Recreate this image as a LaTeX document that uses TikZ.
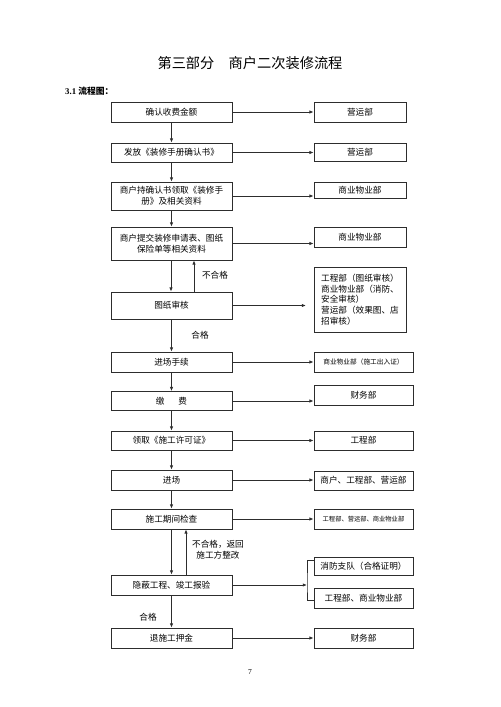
\documentclass[tikz,border=0pt]{standalone}
\usepackage{fontspec}
\setmainfont{Liberation Serif}
\newfontfamily\cjk{Noto Sans CJK SC}
\usetikzlibrary{arrows.meta}
\newcommand{\pxu}{0.042cm}
\definecolor{lineColor}{RGB}{45,45,45}
\tikzstyle{page} = [x = \pxu, y = -\pxu]
\tikzstyle{boxText} = [font=\cjk\fontsize{10.3}{12.8}\selectfont]
\tikzstyle{leftBox} = [boxText, draw=lineColor, line width=0.8pt, minimum width=121*\pxu, inner sep=0pt, align=center]
\tikzstyle{rightBox} = [boxText, draw=lineColor, line width=0.8pt, minimum width=92*\pxu, inner sep=0pt, align=center]
\tikzstyle{wideRightBox} = [rightBox, minimum width=99*\pxu]
\tikzstyle{flowLine} = [color=lineColor, line width=1.1pt]
\tikzstyle{flowArrow} = [flowLine, -{Latex[length=5pt, width=4pt]}]
\tikzstyle{noteText} = [boxText, align=center, inner sep=0pt]
\newcommand{\leftStep}[4]{\node [leftBox, minimum height=#3*\pxu] (#1) at (171.5, #2) {#4};}
\newcommand{\sideArrow}[2]{\draw [flowArrow] (#1.east) -- (#1.east -| #2.west);}
\newcommand{\nextArrow}[2]{\draw [flowArrow] (#1.south) -- (#2.north);}

\begin{document}
\begin{tikzpicture}[page]
      \useasboundingbox (0,0) rectangle (500,707);

      \node [font=\cjk\fontsize{17}{20}\selectfont] (title) at (250, 63) {第三部分\hspace{1em}商户二次装修流程};
      \node [anchor=west, inner sep=0pt, font=\bfseries\fontsize{10.5}{12}\selectfont] (heading) at (65, 91) {3.1 {\cjk 流程图：}};

      % left column
      \leftStep{l1}{112}{20}{确认收费金额}
      \leftStep{l2}{152.5}{19}{发放《装修手册确认书》}
      \leftStep{l3}{196}{28}{商户持确认书领取《装修手\\册》及相关资料}
      \leftStep{l4}{243.5}{33}{商户提交装修申请表、图纸\\保险单等相关资料}
      \leftStep{l5}{305.5}{27}{图纸审核}
      \leftStep{l6}{362}{20}{进场手续}
      \leftStep{l7}{401}{19}{缴\hspace{1.6em}费}
      \leftStep{l8}{440.5}{19}{领取《施工许可证》}
      \leftStep{l9}{480}{20}{进场}
      \leftStep{l10}{519}{20}{施工期间检查}
      \leftStep{l11}{585}{20}{隐蔽工程、竣工报验}
      \leftStep{l12}{638}{20}{退施工押金}

      % right column
      \node [rightBox, minimum height=20*\pxu] (r1) at (360, 112) {营运部};
      \node [rightBox, minimum height=18*\pxu] (r2) at (360, 152) {营运部};
      \node [rightBox, minimum height=16*\pxu] (r3) at (360, 190) {商业物业部};
      \node [rightBox, minimum height=20*\pxu] (r4) at (360, 237) {商业物业部};
      \node [rightBox, minimum height=65*\pxu, align=left] (r5) at (360, 299.5) {工程部（图纸审核）\\商业物业部（消防、\\安全审核）\\营运部（效果图、店\\招审核）};
      \node [wideRightBox, minimum height=20*\pxu, font=\cjk\fontsize{8}{10}\selectfont] (r6) at (363.5, 362) {商业物业部（施工出入证）};
      \node [wideRightBox, minimum height=20*\pxu] (r7) at (363.5, 395) {财务部};
      \node [wideRightBox, minimum height=19*\pxu] (r8) at (363.5, 440.5) {工程部};
      \node [wideRightBox, minimum height=19*\pxu] (r9) at (363.5, 480.5) {商户、工程部、营运部};
      \node [wideRightBox, minimum height=20*\pxu, font=\cjk\fontsize{7.5}{9}\selectfont] (r10) at (363.5, 519) {工程部、营运部、商业物业部};
      \node [wideRightBox, minimum height=18*\pxu] (r11a) at (363.5, 566) {消防支队（合格证明）};
      \node [wideRightBox, minimum height=20*\pxu] (r11b) at (363.5, 598) {工程部、商业物业部};
      \node [wideRightBox, minimum height=20*\pxu] (r12) at (363.5, 638) {财务部};

      % main flow
      \nextArrow{l1}{l2}
      \nextArrow{l2}{l3}
      \nextArrow{l3}{l4}
      \draw [flowArrow] ([xshift=-0.5*\pxu]l4.south) -- ([xshift=-0.5*\pxu]l5.north);
      \draw [flowArrow] ([xshift=22.5*\pxu]l5.north) -- ([xshift=22.5*\pxu]l4.south);
      \node [noteText] (fail1) at (215, 275) {不合格};
      \nextArrow{l5}{l6}
      \node [noteText] (pass1) at (200, 335) {合格};
      \nextArrow{l6}{l7}
      \nextArrow{l7}{l8}
      \nextArrow{l8}{l9}
      \nextArrow{l9}{l10}
      \nextArrow{l10}{l11}
      \draw [flowArrow] ([xshift=14.5*\pxu]l11.north) -- ([xshift=14.5*\pxu]l10.south);
      \node [noteText] (fail2) at (218, 550) {不合格，返回\\施工方整改};
      \nextArrow{l11}{l12}
      \node [noteText] (pass2) at (148, 617) {合格};

      % side arrows
      \sideArrow{l1}{r1}
      \sideArrow{l2}{r2}
      \sideArrow{l3}{r3}
      \sideArrow{l4}{r4}
      \coordinate (checkTip) at (306, 305.5);
      \draw [flowArrow] (l5.east) -- (l5.east -| checkTip);
      \sideArrow{l6}{r6}
      \sideArrow{l7}{r7}
      \sideArrow{l8}{r8}
      \sideArrow{l9}{r9}
      \sideArrow{l10}{r10}
      \coordinate (fork) at (307, 585);
      \draw [flowArrow] (l11.east) -- (fork);
      \draw [flowLine] ([yshift=6*\pxu]r11a.west) -| (fork) |- ([yshift=-2*\pxu]r11b.west);
      \sideArrow{l12}{r12}

      \node [font=\fontsize{9}{11}\selectfont] (pageNum) at (250, 672) {7};
    \end{tikzpicture}
\end{document}
